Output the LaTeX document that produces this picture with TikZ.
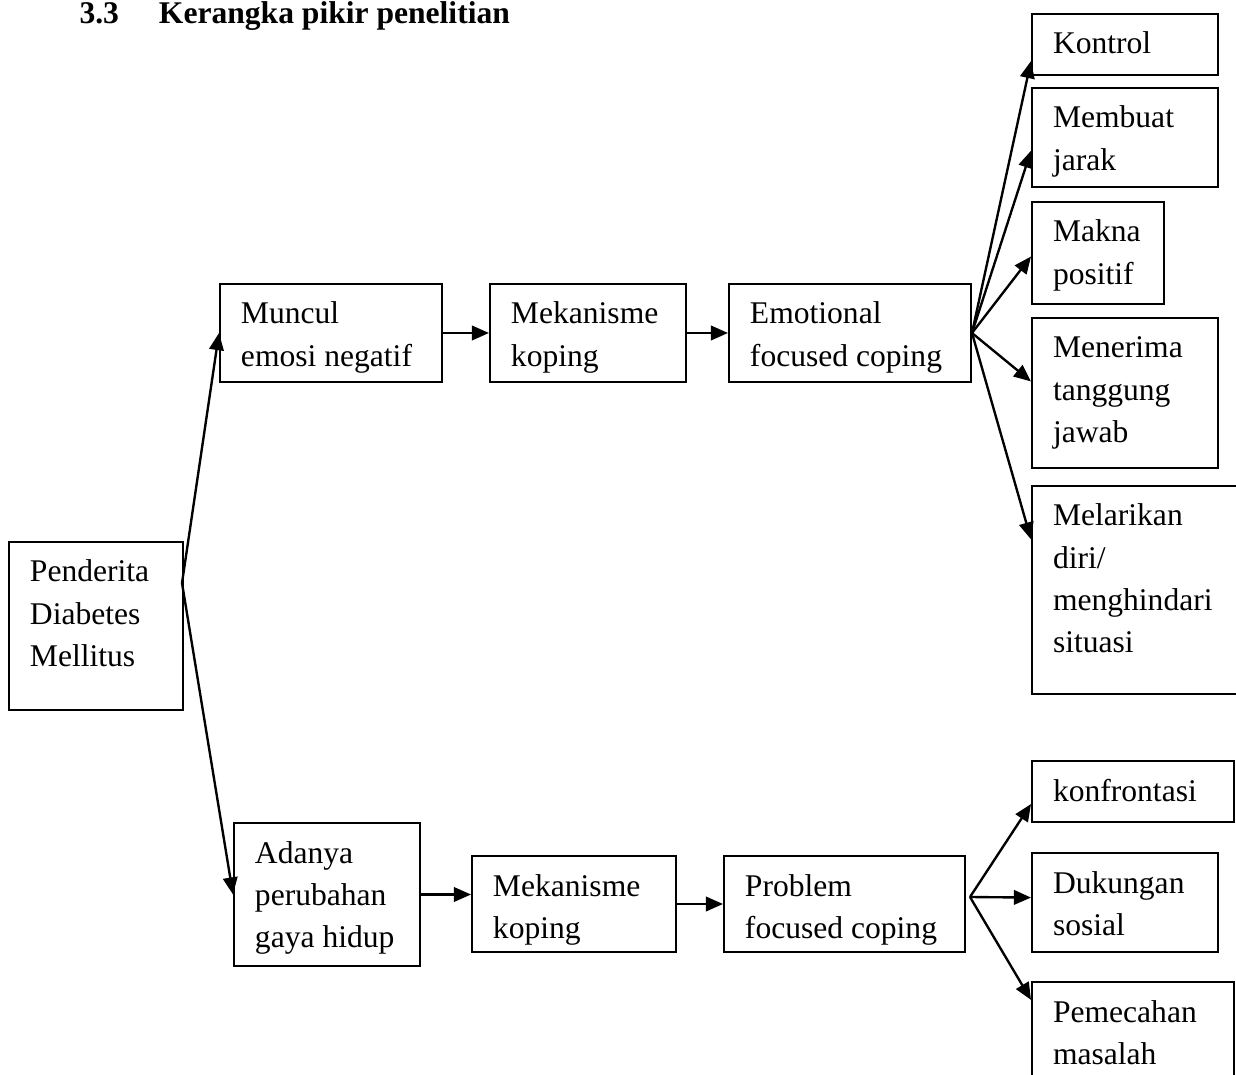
\documentclass[tikz,border=0pt]{standalone}
\usepackage{fontspec}
\setmainfont{Liberation Serif}
\usetikzlibrary{arrows.meta}
\newlength{\px}
\setlength{\px}{0.38pt}
\newcommand{\isi}[3]{\parbox[c][#2\px][t]{#1\px}{\raggedright\leftskip=21\px\rule{0pt}{40\px}#3}}
\tikzset{
  kotak/.style={draw,line width=0.75pt,anchor=north west,inner sep=0pt,font=\fontsize{12}{16}\selectfont},
  panah/.style={-{Triangle[length=6.5pt,width=5.5pt]},line width=0.9pt}
}
\begin{document}
\begin{tikzpicture}[x=0.38pt,y=-0.38pt]
\useasboundingbox (0,0) rectangle (1236,1074);
\clip (0,0) rectangle (1236,1074);
\node[anchor=base west,inner sep=0pt,font=\fontsize{12}{15}\selectfont\bfseries] (judul) at (79,24) {3.3\hspace{40\px}Kerangka pikir penelitian};
% kolom kiri
\node[kotak] (pdm) at (8,541) {\isi{174}{168}{Penderita\\Diabetes\\Mellitus}};
\node[kotak] (muncul) at (219,283) {\isi{222}{98}{Muncul\\emosi negatif}};
\node[kotak] (mek1) at (489,283) {\isi{196}{98}{Mekanisme\\koping}};
\node[kotak] (efc) at (728,283) {\isi{242}{98}{Emotional\\focused coping}};
\node[kotak] (adanya) at (233,822) {\isi{186}{143}{Adanya\\perubahan\\gaya hidup}};
\node[kotak] (mek2) at (471,855) {\isi{204}{96}{Mekanisme\\koping}};
\node[kotak] (pfc) at (723,855) {\isi{241}{96}{Problem\\focused coping}};
% kolom kanan
\node[kotak] (kontrol) at (1031,13) {\isi{186}{61}{Kontrol}};
\node[kotak] (membuat) at (1031,87) {\isi{186}{99}{Membuat\\jarak}};
\node[kotak] (makna) at (1031,201) {\isi{132}{102}{Makna\\positif}};
\node[kotak] (menerima) at (1031,317) {\isi{186}{150}{Menerima\\tanggung\\jawab}};
\node[kotak] (melarikan) at (1031,485) {\isi{215}{208}{Melarikan\\diri/\\menghindari\\situasi}};
\node[kotak] (konfrontasi) at (1031,760) {\isi{202}{61}{konfrontasi}};
\node[kotak] (dukungan) at (1031,852) {\isi{186}{99}{Dukungan\\sosial}};
\node[kotak] (pemecahan) at (1031,981) {\isi{202}{110}{Pemecahan\\masalah}};
% panah
\coordinate (pangkal) at (182,583);
\coordinate (cabang) at (970,897);
\draw[panah] (pangkal) -- (muncul.west);
\draw[panah] (pangkal) -- (adanya.west);
\draw[panah] (muncul.east) -- (mek1.west);
\draw[panah] (mek1.east) -- (efc.west);
\draw[panah] (adanya.east) -- (adanya.east -| mek2.west);
\draw[panah] (mek2.east) -- (pfc.west);
\foreach \t/\a in {kontrol/190,membuat/188,makna/183,menerima/173,melarikan/155}
  \draw[panah] (efc.east) -- (\t.\a);
\foreach \t/\a in {konfrontasi/187,dukungan/177,pemecahan/160}
  \draw[panah] (cabang) -- (\t.\a);
\end{tikzpicture}
\end{document}
